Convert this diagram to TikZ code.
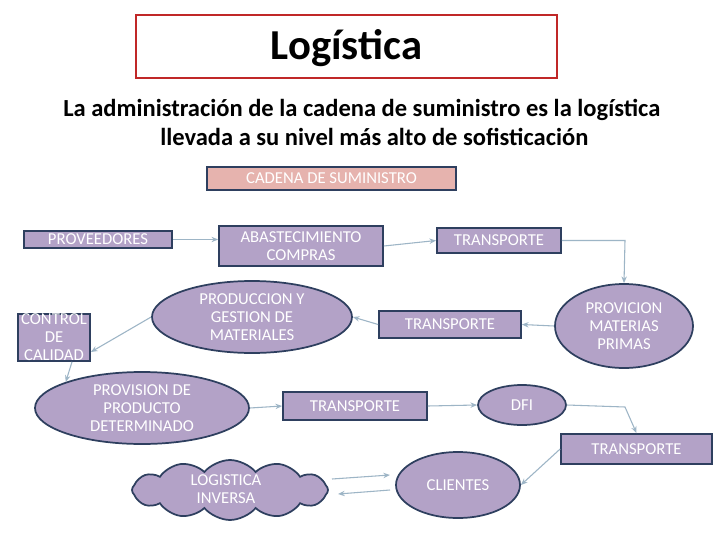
\documentclass[tikz,border=0pt]{standalone}
\usepackage{fontspec}
\setmainfont{Carlito}
\usetikzlibrary{shapes.geometric,shapes.symbols,arrows.meta}
\definecolor{lav}{HTML}{B3A2C7}
\definecolor{nav}{HTML}{2E3F5F}
\definecolor{arr}{HTML}{9DB5C6}
\definecolor{pinkc}{HTML}{E6B3AE}
\tikzset{
 base/.style={fill=lav,draw=nav,line width=1.3pt,text=white,font=\fontsize{12.5}{13.5}\selectfont,align=center,inner sep=0pt},
 bx/.style={base,rectangle},
 el/.style={base,ellipse},
 ar/.style={draw=arr,line width=0.8pt,-{Stealth[length=5pt,width=4pt]}}
}
\begin{document}
\begin{tikzpicture}[x=0.75pt,y=-0.75pt]
\useasboundingbox (0,0) rectangle (728,546);
\fill[white] (0,0) rectangle (728,546);
\node[draw={rgb,255:red,192;green,40;blue,40},line width=1pt,minimum width=421*0.75pt,minimum height=63*0.75pt] (title) at (346.5,46.5) {};
\node[font=\bfseries\fontsize{32}{34}\selectfont,inner sep=0pt] (tt) at (346.5,48) {Logística};
\node[anchor=west,font=\bfseries\fontsize{18.4}{20}\selectfont,inner sep=0pt] (s1) at (63,110) {La administración de la cadena de suministro es la logística};
\node[anchor=west,font=\bfseries\fontsize{18.4}{20}\selectfont,inner sep=0pt] (s2) at (160,137) {llevada a su nivel más alto de sofisticación};
\node[bx,fill=pinkc,minimum width=249*0.75pt,minimum height=23*0.75pt] (cad) at (331.5,178.5) {CADENA DE SUMINISTRO};
\node[bx,minimum width=148*0.75pt,minimum height=17*0.75pt] (prov) at (98,239.5) {PROVEEDORES};
\node[bx,minimum width=164*0.75pt,minimum height=40*0.75pt] (abas) at (301,246) {ABASTECIMIENTO\\COMPRAS};
\node[bx,minimum width=124*0.75pt,minimum height=25*0.75pt] (t1) at (499,240.5) {TRANSPORTE};
\node[el,minimum width=138*0.75pt,minimum height=84*0.75pt] (pmp) at (624,326) {PROVICION\\MATERIAS\\PRIMAS};
\node[bx,minimum width=142*0.75pt,minimum height=27*0.75pt] (t2) at (450,324.5) {TRANSPORTE};
\node[el,minimum width=200*0.75pt,minimum height=72*0.75pt] (prod) at (252,317) {PRODUCCION Y\\GESTION DE\\MATERIALES};
\node[bx,minimum width=72*0.75pt,minimum height=47*0.75pt] (ctrl) at (54,337.5) {CONTROL\\DE\\CALIDAD};
\node[el,minimum width=214*0.75pt,minimum height=72*0.75pt] (ppd) at (142,408) {PROVISION DE\\PRODUCTO\\DETERMINADO};
\node[bx,minimum width=144*0.75pt,minimum height=28*0.75pt] (t3) at (355,406) {TRANSPORTE};
\node[el,minimum width=88*0.75pt,minimum height=40*0.75pt] (dfi) at (522,405) {DFI};
\node[bx,minimum width=151*0.75pt,minimum height=30*0.75pt] (t4) at (636.5,449) {TRANSPORTE};
\node[el,minimum width=124*0.75pt,minimum height=66*0.75pt] (cli) at (458,485) {CLIENTES};
\node[base,cloud,cloud puffs=12,cloud puff arc=100,aspect=3.2,minimum width=196*0.75pt,minimum height=60*0.75pt] (li) at (230,490) {};
\node[text=white,font=\fontsize{12.5}{13.5}\selectfont,align=center,inner sep=0pt] (lit) at (226,489) {LOGISTICA\\INVERSA};
\draw[ar] (prov) -- (abas.west|-prov);
\draw[ar] (abas.east) -- (t1.west);
\coordinate (c1) at (625,240.5);
\draw[ar] (t1.east) -- (c1) -- (pmp.north);
\draw[ar] (pmp.west) -- (t2.east);
\draw[ar] (t2.west) -- (prod.east);
\draw[ar] (prod.west) -- (ctrl.east|-0,352);
\draw[ar] (ctrl.south) ++(18,0) -- (ppd.north west);
\draw[ar] (ppd.east) -- (t3.west);
\draw[ar] (t3.east) -- (dfi.west);
\coordinate (c2) at (625,407);
\draw[ar] (dfi.east) -- (c2) -- (t4.north);
\draw[ar] (t4.west) -- (cli.east);
\draw[ar] (332,479) -- (390,475);
\draw[ar] (390,490) -- (338,494);
\end{tikzpicture}
\end{document}
